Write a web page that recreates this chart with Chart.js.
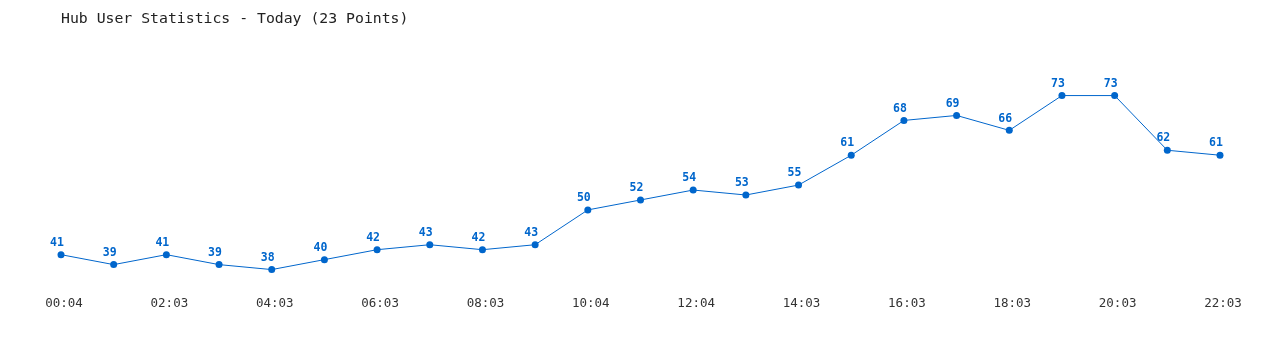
<!DOCTYPE html>
<html>
<head>
<meta charset="utf-8">
<script src="https://cdn.jsdelivr.net/npm/chart.js@4/dist/chart.umd.min.js"></script>
<style>
  html, body { margin: 0; padding: 0; background: #fff; }
  #wrap { width: 1280px; height: 350px; position: relative; }
</style>
</head>
<body>
<div id="wrap"><canvas id="chart"></canvas></div>
<script>
const times = [
  "00:04", "01:03", "02:03", "03:03", "04:03", "05:03", "06:03", "07:03",
  "08:03", "09:03", "10:04", "11:04", "12:04", "13:04", "14:03", "15:03",
  "16:03", "17:03", "18:03", "19:03", "20:03", "21:03", "22:03"
];
const users = [41, 39, 41, 39, 38, 40, 42, 43, 42, 43, 50, 52, 54, 53, 55, 61, 68, 69, 66, 73, 73, 62, 61];
const titleText = "Hub User Statistics - Today (23 Points)";

const blue = "#0066cc";

// draw the value above each point
const valueLabels = {
  id: "valueLabels",
  afterDatasetsDraw(chart) {
    const ctx = chart.ctx;
    const meta = chart.getDatasetMeta(0);
    ctx.save();
    ctx.font = "bold 11.5px 'DejaVu Sans Mono', monospace";
    ctx.fillStyle = blue;
    ctx.textAlign = "center";
    ctx.textBaseline = "bottom";
    meta.data.forEach((pt, i) => {
      ctx.fillText(String(users[i]), pt.x - 4, pt.y - 6);
    });
    ctx.restore();
  }
};

new Chart(document.getElementById("chart"), {
  type: "line",
  data: {
    labels: times,
    datasets: [{
      data: users,
      borderColor: blue,
      backgroundColor: blue,
      borderWidth: 1,
      pointRadius: 3.5,
      pointBackgroundColor: blue,
      pointBorderWidth: 0,
      tension: 0
    }]
  },
  options: {
    responsive: true,
    maintainAspectRatio: false,
    animation: false,
    layout: { padding: { left: 61, right: 60, top: 0, bottom: 35.5 } },
    plugins: {
      legend: { display: false },
      tooltip: { enabled: false },
      title: {
        display: true,
        text: titleText,
        align: "start",
        color: "#222",
        font: { family: "'DejaVu Sans Mono', monospace", size: 14.8, weight: "normal" },
        padding: { top: 10, bottom: 33 }
      }
    },
    scales: {
      x: {
        offset: false,
        grid: { display: false },
        border: { display: false },
        ticks: {
          autoSkip: false,
          maxRotation: 0,
          color: "#333",
          padding: 3.5,
          labelOffset: 3,
          font: { family: "'DejaVu Sans Mono', monospace", size: 12.5 },
          callback: (v, i) => (i % 2 === 0 ? times[i] : "")
        }
      },
      y: { display: false, min: 35, max: 80 }
    }
  },
  plugins: [valueLabels]
});
</script>
</body>
</html>
